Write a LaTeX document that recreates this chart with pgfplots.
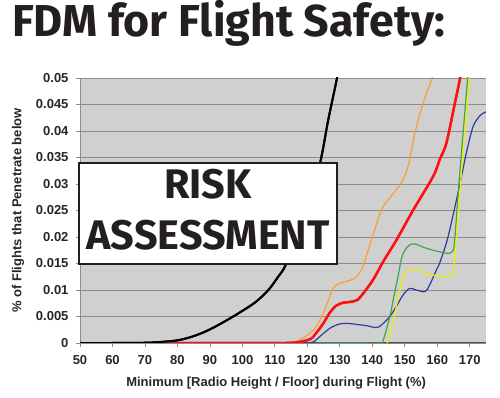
\documentclass[border=0pt]{standalone}
\usepackage{fontspec}
\setmainfont{Liberation Sans}
\newfontfamily\titlefont{Fira Sans}
\usepackage{pgfplots}
\pgfplotsset{compat=1.18}

\definecolor{bggray}{HTML}{D0D0D0}
\definecolor{gridgray}{HTML}{8C8C8C}
\definecolor{corange}{HTML}{F8A030}
\definecolor{cred}{HTML}{FF1010}
\definecolor{cblue}{HTML}{2E3C9E}
\definecolor{cgreen}{HTML}{3DA84A}
\definecolor{cyellow}{HTML}{F2EE00}
\definecolor{ink}{HTML}{231F20}

\pgfplotstableread{
x y
50 0
60 0
70 0.00005
75 0.0002
80 0.0005
84 0.0011
88 0.0020
92 0.0032
97.7 0.0052
103.8 0.0076
108 0.0100
111 0.0125
113.3 0.0147
117 0.0210
121 0.0285
124 0.0342
126.4 0.0420
129 0.0496
129.3 0.0510
}\blackdata

\pgfplotstableread{
x y
110 0
115 0.0001
117.7 0.0006
120 0.0015
122.8 0.0031
125.5 0.0065
127.9 0.0103
130 0.0113
132.5 0.0117
134.6 0.0122
136 0.0132
137.2 0.0146
139.7 0.0194
142.8 0.0251
145.4 0.0274
147.5 0.0290
149 0.0303
151 0.0333
153.1 0.0396
155.6 0.0452
158.2 0.0496
158.8 0.0510
}\orangedata

\pgfplotstableread{
x y
76 0
95 0
110 0
116 0.0001
120.8 0.0007
123 0.0021
124.9 0.0037
127 0.0058
129 0.0071
131 0.0076
132.6 0.0077
134.5 0.0079
135.6 0.0082
137.5 0.0096
140.2 0.0119
143.5 0.0155
147.4 0.0194
152.6 0.0251
158.7 0.0314
160.8 0.0347
162.8 0.0377
165.4 0.0452
166.9 0.0496
167.2 0.0510
}\reddata

\pgfplotstableread{
x y
119 0
121.8 0.0002
124.9 0.0018
127.5 0.0030
130 0.0036
132.5 0.0037
135.1 0.0035
138 0.0033
141.3 0.0029
143 0.0035
145.4 0.0050
147.5 0.0070
149.5 0.0091
151.5 0.0103
153.5 0.0100
156.2 0.0097
157.7 0.0110
159.5 0.0135
160.8 0.0152
163.3 0.0200
166.9 0.0298
169 0.0360
171 0.0408
173 0.0428
174.3 0.0434
175 0.0436
}\bluedata

\pgfplotstableread{
x y
123 0
135 0
142.5 0
143.3 0.0004
145.4 0.0050
146.7 0.0090
147.9 0.0125
149 0.0160
150 0.0175
151.5 0.0185
153.1 0.0187
156 0.0180
158.7 0.0175
161.5 0.0171
163.8 0.0169
164.7 0.0173
165.3 0.0190
166.6 0.0295
168 0.0400
169.3 0.0496
169.5 0.0510
}\greendata

\pgfplotstableread{
x y
144.3 -0.0005
144.9 0.0006
146.2 0.0035
147.4 0.0069
148.7 0.0105
150 0.0132
151.8 0.0138
153.6 0.0139
156 0.0133
158.7 0.0128
161 0.0126
163.3 0.0125
164.5 0.0129
165.1 0.0141
167.1 0.0295
168.5 0.0400
169.8 0.0496
170 0.0510
}\yellowdata

\begin{document}
\begin{tikzpicture}
\useasboundingbox (0pt,0pt) rectangle (500pt,398pt);
\node[anchor=base west, inner sep=0] at (12pt,361pt)
  {\resizebox{433pt}{!}{\titlefont\bfseries\color{ink}FDM for Flight Safety:}};
\begin{axis}[
  at={(80pt,55pt)}, anchor=south west,
  width=406pt, height=265pt, scale only axis,
  xmin=50, xmax=175, ymin=0, ymax=0.05,
  xtick={50,60,...,170},
  ytick={0,0.005,0.01,0.015,0.02,0.025,0.03,0.035,0.04,0.045,0.05},
  yticklabels={0,0.005,0.01,0.015,0.02,0.025,0.03,0.035,0.04,0.045,0.05},
  scaled y ticks=false,
  /pgf/number format/assume math mode=true,
  tick label style={font=\bfseries\fontsize{13}{15}\selectfont, text=black!85},
  xticklabel style={yshift=-5pt},
  yticklabel style={xshift=-4pt},
  tick align=outside, major tick length=4pt,
  tick style={gridgray, line width=0.8pt},
  axis x line*=bottom, axis y line*=left,
  x axis line style={-, black!70, line width=1pt},
  y axis line style={-, gridgray, line width=0.8pt},
  axis background/.style={fill=bggray},
  ymajorgrids, major grid style={gridgray, line width=0.9pt},
  xlabel={Minimum [Radio Height / Floor] during Flight (\%)},
  ylabel={\% of Flights that Penetrate below},
  label style={font=\bfseries\fontsize{13}{15}\selectfont, text=black!85},
  xlabel style={at={(axis description cs:0.483,0)}, anchor=base, yshift=-44pt},
  ylabel style={at={(axis description cs:0,0.5)}, anchor=center, yshift=62pt},
  clip=true,
]
\addplot[cred, line width=2.3pt, smooth, tension=0.5] table {\reddata};
\addplot[black, line width=2pt, smooth, tension=0.5] table {\blackdata};
\addplot[corange, line width=1.2pt, smooth, tension=0.5] table {\orangedata};
\addplot[cred, line width=2.3pt, smooth, tension=0.5] table {\reddata};
\addplot[cblue, line width=1.2pt, smooth, tension=0.5] table {\bluedata};
\addplot[cgreen, line width=1.2pt, smooth, tension=0.5] table {\greendata};
\addplot[cyellow, line width=1.2pt, smooth, tension=0.5] table {\yellowdata};
\addplot[black, line width=2pt, smooth, tension=0.5] table {\blackdata};
\end{axis}
\draw[ink, line width=2pt, fill=white] (79pt,134pt) rectangle (337pt,235pt);
\node[inner sep=0, ink] at (208pt,184pt)
  {\resizebox{243pt}{!}{\titlefont\bfseries\fontsize{40}{49.5}\selectfont\begin{tabular}{@{}c@{}}RISK\\ASSESSMENT\end{tabular}}};
\end{tikzpicture}
\end{document}
